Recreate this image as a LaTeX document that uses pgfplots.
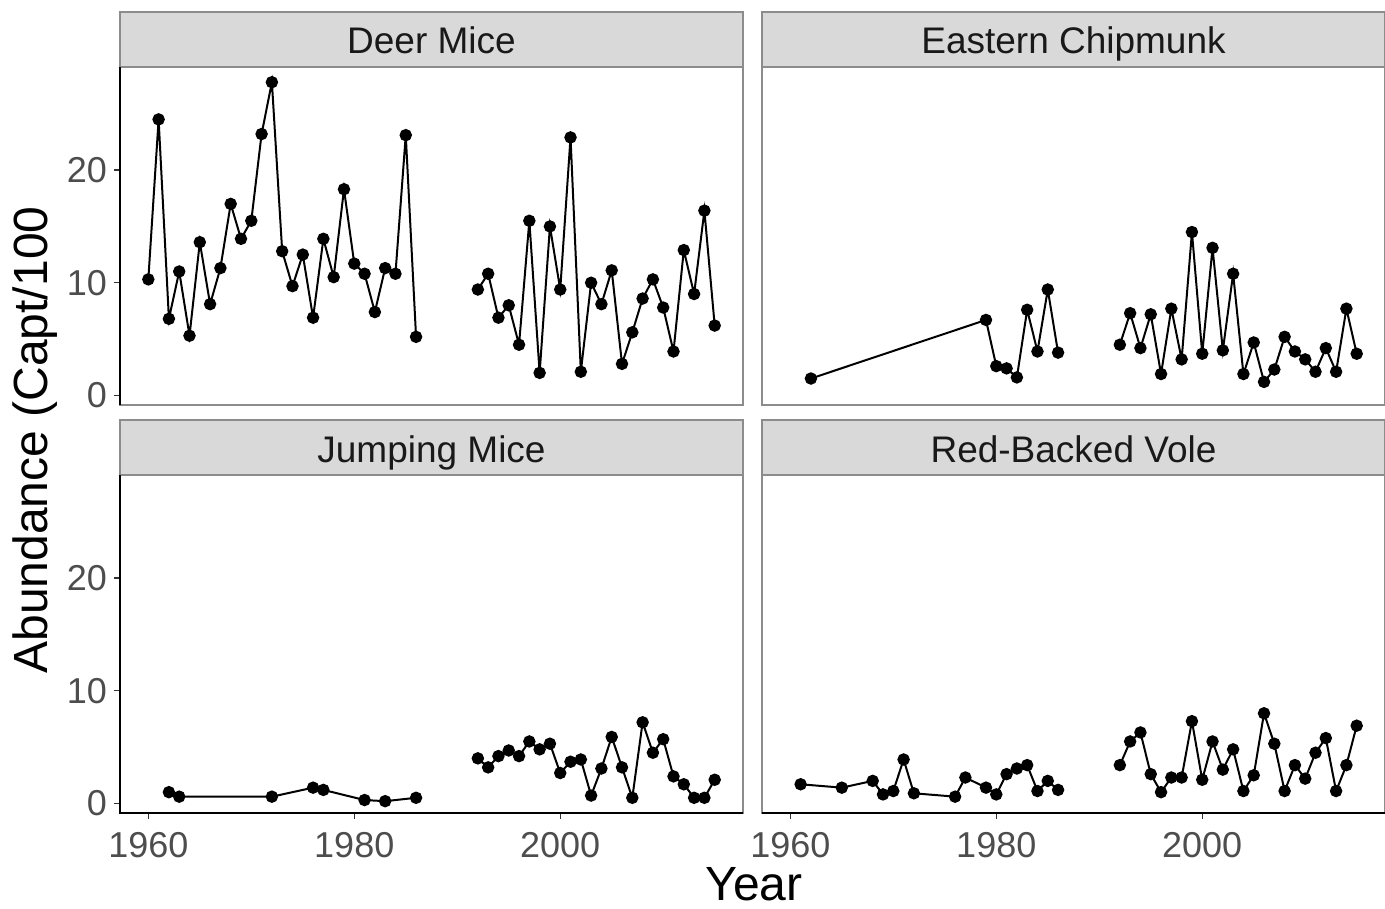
\documentclass[border=0pt]{standalone}
\usepackage{fontspec}
\setmainfont{Liberation Sans}
\usepackage{pgfplots}
\pgfplotsset{compat=1.18}
\usepackage{pgfplotstable}
\definecolor{stripgray}{RGB}{217,217,217}
\definecolor{framegray}{RGB}{140,140,140}
\definecolor{ticktext}{RGB}{77,77,77}

% abundance per species, nan row breaks the line at the sampling gap
\pgfplotstableread{
year val
1960 10.3
1961 24.5
1962 6.8
1963 11.0
1964 5.3
1965 13.6
1966 8.1
1967 11.3
1968 17.0
1969 13.9
1970 15.5
1971 23.2
1972 27.8
1973 12.8
1974 9.7
1975 12.5
1976 6.9
1977 13.9
1978 10.5
1979 18.3
1980 11.7
1981 10.8
1982 7.4
1983 11.3
1984 10.8
1985 23.1
1986 5.2
1989 nan
1992 9.4
1993 10.8
1994 6.9
1995 8.0
1996 4.5
1997 15.5
1998 2.0
1999 15.0
2000 9.4
2001 22.9
2002 2.1
2003 10.0
2004 8.1
2005 11.1
2006 2.8
2007 5.6
2008 8.6
2009 10.3
2010 7.8
2011 3.9
2012 12.9
2013 9.0
2014 16.4
2015 6.2
}\deermice

\pgfplotstableread{
year val
1962 1.5
1979 6.7
1980 2.6
1981 2.4
1982 1.6
1983 7.6
1984 3.9
1985 9.4
1986 3.8
1989 nan
1992 4.5
1993 7.3
1994 4.2
1995 7.2
1996 1.9
1997 7.7
1998 3.2
1999 14.5
2000 3.7
2001 13.1
2002 4.0
2003 10.8
2004 1.9
2005 4.7
2006 1.2
2007 2.3
2008 5.2
2009 3.9
2010 3.2
2011 2.1
2012 4.2
2013 2.1
2014 7.7
2015 3.7
}\chipmunk

\pgfplotstableread{
year val
1962 1.0
1963 0.6
1972 0.6
1976 1.4
1977 1.2
1981 0.3
1983 0.2
1986 0.5
1989 nan
1992 4.0
1993 3.2
1994 4.2
1995 4.7
1996 4.2
1997 5.5
1998 4.8
1999 5.3
2000 2.7
2001 3.7
2002 3.9
2003 0.7
2004 3.1
2005 5.9
2006 3.2
2007 0.5
2008 7.2
2009 4.5
2010 5.7
2011 2.4
2012 1.7
2013 0.5
2014 0.5
2015 2.1
}\jumping

\pgfplotstableread{
year val
1961 1.7
1965 1.4
1968 2.0
1969 0.8
1970 1.1
1971 3.9
1972 0.9
1976 0.6
1977 2.3
1979 1.4
1980 0.8
1981 2.6
1982 3.1
1983 3.4
1984 1.1
1985 2.0
1986 1.2
1989 nan
1992 3.4
1993 5.5
1994 6.3
1995 2.6
1996 1.0
1997 2.3
1998 2.3
1999 7.3
2000 2.1
2001 5.5
2002 3.0
2003 4.8
2004 1.1
2005 2.5
2006 8.0
2007 5.3
2008 1.1
2009 3.4
2010 2.2
2011 4.5
2012 5.8
2013 1.1
2014 3.4
2015 6.9
}\vole

\pgfplotsset{
  panel/.style={
    scale only axis, width=311.5pt, height=169pt,
    xmin=1957.25, xmax=2017.75, ymin=-0.85, ymax=29.15,
    axis line style={framegray, line width=0.7pt},
    tick align=outside, major tick length=3pt,
    tick style={black!80, line width=0.6pt},
    ticklabel style={font=\fontsize{18}{18}\selectfont, text=ticktext},
    xticklabel style={yshift=-3pt},
    /pgf/number format/assume math mode=true,
    /pgf/number format/1000 sep={},
    xtick=\empty, ytick=\empty,
    xtick pos=bottom, ytick pos=left,
    unbounded coords=jump,
    anchor=north west,
  },
  series/.style={black, line width=1pt, mark=*, mark size=2.6pt,
    mark options={fill=black, solid}},
}

\newcommand{\strip}[2]{%
  \draw[framegray, line width=0.7pt, fill=stripgray]
    (#1.north west) rectangle ([yshift=27.5pt]#1.north east);
  \node[font=\fontsize{18.5}{18.5}\selectfont, text=black!90, anchor=base, inner sep=0pt]
    at ([yshift=6.5pt]#1.north) {#2};}

\begin{document}
\begin{tikzpicture}
\begin{axis}[panel, name=tl, at={(60pt,-33.5pt)}, ytick={0,10,20}]
  \addplot[series] table[x=year, y=val] {\deermice};
\end{axis}
\begin{axis}[panel, name=tr, at={(381pt,-33.5pt)}]
  \addplot[series] table[x=year, y=val] {\chipmunk};
\end{axis}
\begin{axis}[panel, name=bl, at={(60pt,-237.5pt)}, ytick={0,10,20}, xtick={1960,1980,2000}]
  \addplot[series] table[x=year, y=val] {\jumping};
\end{axis}
\begin{axis}[panel, name=br, at={(381pt,-237.5pt)}, xtick={1960,1980,2000}]
  \addplot[series] table[x=year, y=val] {\vole};
\end{axis}

\strip{tl}{Deer Mice}
\strip{tr}{Eastern Chipmunk}
\strip{bl}{Jumping Mice}
\strip{br}{Red-Backed Vole}

\draw[black, line width=0.9pt] (tl.south west) -- (tl.north west);
\draw[black, line width=0.9pt] (bl.north west) -- (bl.south west) -- (bl.south east);
\draw[black, line width=0.9pt] (br.south west) -- (br.south east);

\node[rotate=90, font=\fontsize{24}{24}\selectfont] at (17.5pt,-220pt) {Abundance (Capt/100};
\node[font=\fontsize{24}{24}\selectfont, anchor=base, inner sep=0pt] at (377pt,-450pt) {Year};

\pgfresetboundingbox
\path (0,0) rectangle (692.5pt,-454.5pt);
\end{tikzpicture}
\end{document}
